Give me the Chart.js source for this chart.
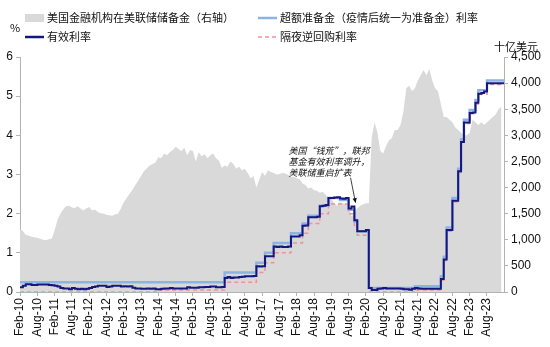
<!DOCTYPE html>
<html><head><meta charset="utf-8">
<script src="https://cdn.jsdelivr.net/npm/chart.js@4.4.0/dist/chart.umd.min.js"></script>
<style>html,body{margin:0;padding:0;background:#fff;}#wrap{width:550px;height:347px;position:relative;}</style>
</head><body><div id="wrap"><canvas id="c" width="550" height="347"></canvas></div>
<script>
// ---- data (monthly, index 0 = Feb-2010) ----
const monthNames = ['Jan','Feb','Mar','Apr','May','Jun','Jul','Aug','Sep','Oct','Nov','Dec'];
const seriesNames = ['美国金融机构在美联储储备金（右轴）','超额准备金（疫情后统一为准备金）利率','有效利率','隔夜逆回购利率'];
const leftTitle = '%';
const rightTitle = '十亿美元';
const noteLines = ['美国“钱荒”，联邦','基金有效利率调升，','美联储重启扩表'];

// reserves of US institutions at the Fed, billions USD, Feb-2010 .. Jan-2024
const reserves = [
  1200,1170,1090,1080,1060,1050,1040,1020,1000,990,1010,
  1020,1180,1380,1500,1580,1640,1650,1620,1610,1640,1600,1560,
  1600,1630,1560,1580,1530,1510,1500,1480,1470,1460,1490,1500,
  1600,1720,1800,1880,1960,2050,2130,2220,2310,2370,2420,2450,
  2480,2580,2560,2650,2620,2680,2720,2780,2740,2700,2760,2620,
  2720,2700,2500,2680,2600,2640,2560,2620,2650,2560,2520,2380,
  2420,2400,2500,2450,2360,2400,2330,2360,2280,2180,2220,2000,
  2150,2300,2220,2330,2300,2280,2250,2260,2280,2270,2240,2200,
  2200,2180,2160,2080,2050,1980,2000,1950,1940,1900,1920,1860,
  1800,1780,1700,1650,1720,1700,1680,1660,1450,1500,1600,1650,
  1680,1700,1700,2950,3250,3050,2700,2650,2800,2900,2950,3100,
  3100,3200,3450,3900,3950,3850,3900,4050,4150,4250,4150,4270,
  4050,3900,3850,3600,3350,3350,3300,3250,3150,3100,3050,3000,
  3000,3050,3300,3250,3200,3250,3200,3250,3300,3350,3400,3500,
  3550
];
// effective federal funds rate, %, Feb-2010 .. Jan-2024
const effr = [
  0.12,0.16,0.20,0.20,0.18,0.18,0.19,0.19,0.19,0.19,0.18,
  0.17,0.16,0.14,0.10,0.09,0.09,0.07,0.10,0.08,0.07,0.08,0.07,
  0.08,0.10,0.13,0.14,0.16,0.16,0.16,0.13,0.14,0.16,0.16,0.16,
  0.14,0.15,0.14,0.15,0.11,0.09,0.09,0.08,0.08,0.09,0.08,0.09,
  0.07,0.07,0.08,0.09,0.09,0.10,0.09,0.09,0.09,0.09,0.09,0.12,
  0.11,0.11,0.11,0.12,0.12,0.13,0.13,0.14,0.14,0.12,0.12,0.13,
  0.36,0.38,0.36,0.37,0.37,0.38,0.39,0.40,0.40,0.40,0.41,0.66,
  0.65,0.66,0.91,0.91,0.91,1.16,1.15,1.16,1.15,1.15,1.16,1.42,
  1.42,1.42,1.45,1.69,1.70,1.91,1.91,1.91,1.92,2.19,2.20,2.22,
  2.40,2.40,2.41,2.42,2.39,2.38,2.40,2.13,2.18,1.83,1.55,1.55,
  1.55,1.58,0.10,0.05,0.05,0.08,0.09,0.10,0.09,0.09,0.09,0.09,
  0.09,0.08,0.07,0.07,0.06,0.08,0.10,0.09,0.08,0.08,0.08,0.08,
  0.08,0.08,0.08,0.33,0.83,1.58,1.58,2.33,2.33,3.08,3.83,4.33,
  4.33,4.57,4.58,4.83,5.06,5.08,5.12,5.33,5.33,5.33,5.33,5.33,
  5.33
];
// interest on reserves: month the rate took effect, and the rate
const iorbStart = ['2010-02','2016-01','2016-12','2017-03','2017-06','2017-12','2018-04','2018-06','2018-10','2019-01','2019-05','2019-08','2019-10','2019-11','2020-03','2021-07','2022-04','2022-05','2022-06','2022-08','2022-10','2022-11','2022-12','2023-02','2023-04','2023-05','2023-08'];
const iorbRate  = [0.25,0.50,0.75,1.00,1.25,1.50,1.75,1.95,2.20,2.40,2.35,2.10,1.80,1.55,0.10,0.15,0.40,0.90,1.65,2.40,3.15,3.90,4.40,4.65,4.90,5.15,5.40];
// overnight reverse repo rate
const rrpStart = ['2010-02','2014-02','2016-01','2016-12','2017-03','2017-06','2017-12','2018-04','2018-06','2018-10','2019-01','2019-08','2019-10','2019-11','2020-03','2021-07','2022-04','2022-05','2022-06','2022-08','2022-10','2022-11','2022-12','2023-02','2023-04','2023-05','2023-08'];
const rrpRate  = [0.00,0.05,0.25,0.50,0.75,1.00,1.25,1.50,1.75,2.00,2.25,2.00,1.70,1.45,0.00,0.05,0.30,0.80,1.55,2.30,3.05,3.80,4.30,4.55,4.80,5.05,5.30];
// annotation anchor (month index, % value)
const noteAt = {x: 116.4, y: 2.28};

// ---- helpers ----
const nMonths = reserves.length;
function monthIndex(s){const [y,m]=s.split('-').map(Number);return (y-2010)*12+(m-2);}
function stepPoints(starts, rates){
  const pts = starts.map((s,i)=>({x:monthIndex(s), y:rates[i]}));
  pts.push({x:nMonths, y:rates[rates.length-1]});
  return pts;
}
function labelFor(v){
  const k = 1 + v; return monthNames[k%12] + '-' + String(2010 + Math.floor(k/12)).slice(2);
}

const FONT = '"Liberation Sans", Arial, sans-serif';
const CJK = '"Noto Sans CJK SC", "Noto Sans", sans-serif';
const AX = '#b3b3b3';
const COLORS = {area:'#d9d9d9', iorb:'#8db3e2', effr:'#14177f', rrp:'#ee9494'};

const effrPts = effr.map((v,i)=>({x:i,y:v})); effrPts.push({x:nMonths,y:effr[effr.length-1]});

const overlay = {
  id:'overlay',
  afterDraw(chart){
    const ctx = chart.ctx, ds = chart.data.datasets;
    ctx.save();
    ctx.fillStyle = '#111';
    ctx.textBaseline = 'middle';
    ctx.font = '11px ' + CJK;
    // legend
    const items = [
      {x:25, y:18, kind:'box', color:COLORS.area, text:ds[0].label},
      {x:258, y:18, kind:'line', color:COLORS.iorb, w:2.5, text:ds[1].label},
      {x:25, y:37, kind:'line', color:COLORS.effr, w:2.5, text:ds[2].label},
      {x:258, y:37, kind:'dash', color:COLORS.rrp, w:1.5, text:ds[3].label}
    ];
    for (const it of items){
      if (it.kind==='box'){ ctx.fillStyle = it.color; ctx.fillRect(it.x, it.y-4, 19, 8); }
      else {
        ctx.strokeStyle = it.color; ctx.lineWidth = it.w;
        ctx.setLineDash(it.kind==='dash'?[4,3]:[]);
        ctx.beginPath(); ctx.moveTo(it.x, it.y); ctx.lineTo(it.x+19, it.y); ctx.stroke();
        ctx.setLineDash([]);
      }
      ctx.fillStyle = '#111'; ctx.textAlign='left';
      ctx.fillText(it.text, it.x+22, it.y);
    }
    // axis titles
    ctx.font = '11px ' + CJK;
    ctx.textAlign='left'; ctx.fillText(leftTitle, 10, 28);
    ctx.textAlign='right'; ctx.fillText(rightTitle, 538, 47);
    // annotation
    const xs = chart.scales.x, ys = chart.scales.y;
    const tx = xs.getPixelForValue(noteAt.x), ty = ys.getPixelForValue(noteAt.y);
    ctx.font = 'italic 9px ' + CJK;
    ctx.textAlign='left';
    noteLines.forEach((t,i)=>ctx.fillText(t, tx-67, ty-52+i*11));
    const sx = tx-5, sy = ty-25;
    ctx.strokeStyle = '#111'; ctx.lineWidth = 0.8;
    ctx.beginPath(); ctx.moveTo(sx, sy); ctx.lineTo(tx, ty); ctx.stroke();
    const ang = Math.atan2(ty-sy, tx-sx), L = 5, W = 0.45;
    ctx.fillStyle = '#111';
    ctx.beginPath(); ctx.moveTo(tx, ty);
    ctx.lineTo(tx - L*Math.cos(ang-W), ty - L*Math.sin(ang-W));
    ctx.lineTo(tx - L*Math.cos(ang+W), ty - L*Math.sin(ang+W));
    ctx.closePath(); ctx.fill();
    ctx.restore();
  }
};

new Chart(document.getElementById('c'), {
  type:'line',
  data:{
    datasets:[
      {label:seriesNames[0], data:reserves.map((v,i)=>({x:i,y:v})), yAxisID:'y1', fill:'origin',
       backgroundColor:COLORS.area, borderWidth:0, borderColor:COLORS.area, pointRadius:0, order:4},
      {label:seriesNames[1], data:stepPoints(iorbStart, iorbRate), yAxisID:'y', stepped:'before',
       borderColor:COLORS.iorb, borderWidth:2.5, pointRadius:0, fill:false, order:3},
      {label:seriesNames[2], data:effrPts, yAxisID:'y', stepped:'before',
       borderColor:COLORS.effr, borderWidth:2, pointRadius:0, fill:false, order:1},
      {label:seriesNames[3], data:stepPoints(rrpStart, rrpRate), yAxisID:'y', stepped:'before',
       borderColor:COLORS.rrp, borderWidth:1.5, borderDash:[4,3], pointRadius:0, fill:false, order:2}
    ]
  },
  options:{
    responsive:false, animation:false, devicePixelRatio:1,
    layout:{padding:{top:57,left:0,right:0,bottom:0}},
    plugins:{legend:{display:false}, tooltip:{enabled:false}},
    scales:{
      x:{type:'linear', min:0, max:167.9,
         afterFit:(s)=>{s.height=55;},
         grid:{drawOnChartArea:false, drawTicks:true, tickLength:4, color:AX},
         border:{display:true, color:AX},
         ticks:{stepSize:6, includeBounds:false, autoSkip:false, minRotation:90, maxRotation:90, padding:2,
                color:'#111', font:{family:FONT, size:12}, callback:(v)=> (v%6===0 ? labelFor(v) : '')}},
      y:{position:'left', min:0, max:6,
         afterFit:(s)=>{s.width=20;},
         grid:{drawOnChartArea:false, drawTicks:true, tickLength:4, color:AX},
         border:{display:true, color:AX},
         ticks:{stepSize:1, padding:3, color:'#111', font:{family:FONT, size:12}}},
      y1:{position:'right', min:0, max:4500,
         afterFit:(s)=>{s.width=46;},
         grid:{drawOnChartArea:false, drawTicks:true, tickLength:4, color:AX},
         border:{display:true, color:AX},
         ticks:{stepSize:500, padding:3, color:'#111', font:{family:FONT, size:12},
                callback:(v)=>Number(v).toLocaleString('en-US')}}
    }
  },
  plugins:[overlay]
});
</script></body></html>
